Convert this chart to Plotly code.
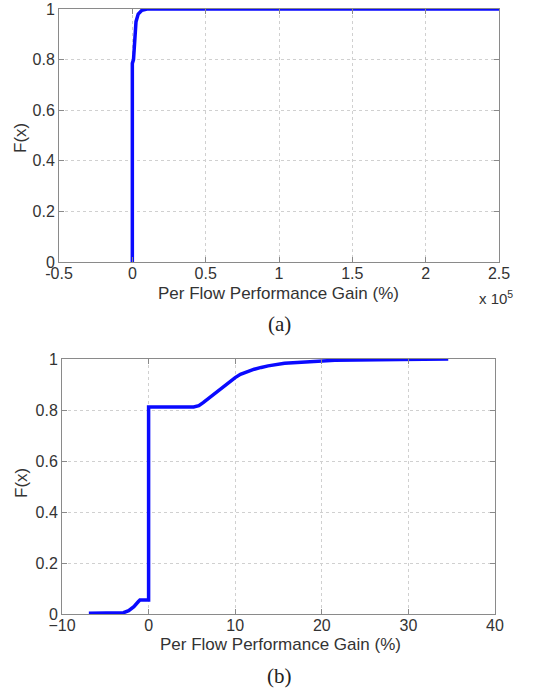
import plotly.graph_objects as go

# Panel (a): CDF of per-flow performance gain (%), x in raw percent
a_gain = [0, 0, 800, 1500, 2500, 4000, 6500, 10000, 250000]
a_cdf = [0.0, 0.785, 0.80, 0.88, 0.95, 0.98, 0.995, 1.0, 1.0]

# Panel (b): CDF of per-flow performance gain (%)
b_gain = [-6.9, -2.9, -2.3, -1.7, -1.2, -1.0, 0.0, 0.0, 5.2, 5.8, 6.3, 7.1, 7.9, 8.6,
          9.4, 10.0, 10.6, 11.4, 12.2, 13.0, 13.8, 15.7, 18.4, 21.5, 29.0, 34.6]
b_cdf = [0.003, 0.005, 0.013, 0.029, 0.048, 0.055, 0.055, 0.812, 0.812, 0.817, 0.829,
         0.850, 0.872, 0.892, 0.911, 0.927, 0.940, 0.951, 0.960, 0.967, 0.973, 0.983,
         0.990, 0.995, 0.998, 1.0]

a_xticks = [-0.5, 0, 0.5, 1, 1.5, 2, 2.5]
a_xtick_text = ["-0.5", "0", "0.5", "1", "1.5", "2", "2.5"]
b_xticks = [-10, 0, 10, 20, 30, 40]
b_xtick_text = ["\u221210", "0", "10", "20", "30", "40"]
y_ticks = [0, 0.2, 0.4, 0.6, 0.8, 1]
y_tick_text = ["0", "0.2", "0.4", "0.6", "0.8", "1"]
scale_a = 1e5

W, H = 540, 695
BLUE = "#0a0aff"

def fx(px):
    return px / W

def fy(py):
    return 1 - py / H

fig = go.Figure()
fig.add_trace(go.Scatter(x=[v / scale_a for v in a_gain], y=a_cdf, mode="lines",
                         line=dict(color=BLUE, width=3.5), xaxis="x", yaxis="y",
                         showlegend=False))
fig.add_trace(go.Scatter(x=b_gain, y=b_cdf, mode="lines",
                         line=dict(color=BLUE, width=3.5),
                         xaxis="x2", yaxis="y2", showlegend=False))

tickfont = dict(family="Liberation Sans, Arial", size=16, color="#333333")
common = dict(showline=True, linecolor="#8a8a8a", linewidth=1, mirror="ticks",
              ticks="inside", ticklen=5, tickcolor="#8a8a8a",
              showgrid=True, gridcolor="#d0d0d0", griddash="dot", gridwidth=1,
              zeroline=False, tickfont=tickfont, automargin=False)
xcommon = dict(ticklabelstandoff=-3, **common)

ax_dom = [fx(59), fx(499)]
ay_dom = [fy(262), fy(9)]
bx_dom = [fx(62), fx(495)]
by_dom = [fy(614), fy(359)]

fig.update_layout(
    width=W, height=H,
    margin=dict(l=0, r=0, t=0, b=0, autoexpand=False),
    paper_bgcolor="white", plot_bgcolor="white",
    xaxis=dict(domain=ax_dom, anchor="y", range=[-0.5, 2.5],
               tickvals=a_xticks, ticktext=a_xtick_text, **xcommon),
    yaxis=dict(domain=ay_dom, anchor="x", range=[0, 1],
               tickvals=y_ticks, ticktext=y_tick_text, **common),
    xaxis2=dict(domain=bx_dom, anchor="y2", range=[-10, 40],
                tickvals=b_xticks, ticktext=b_xtick_text, **xcommon),
    yaxis2=dict(domain=by_dom, anchor="x2", range=[0, 1],
                tickvals=y_ticks, ticktext=y_tick_text, **common),
)

labfont = dict(family="Liberation Sans, Arial", size=17, color="#333333")
capfont = dict(family="Liberation Serif, Times New Roman", size=21, color="#222222")

def px_ann(x, y, text, font, angle=0, xanchor="center", yanchor="middle"):
    fig.add_annotation(x=fx(x), y=fy(y), xref="paper", yref="paper", text=text,
                       showarrow=False, font=font, textangle=angle,
                       xanchor=xanchor, yanchor=yanchor)

px_ann(278, 293, "Per Flow Performance Gain (%)", labfont)
px_ann(280, 644, "Per Flow Performance Gain (%)", labfont)
px_ann(20, 138, "F(x)", labfont, angle=-90)
px_ann(21, 483, "F(x)", labfont, angle=-90)
px_ann(477, 297, "x 10<sup>5</sup>", dict(family="Liberation Sans, Arial", size=15, color="#333333"), xanchor="left")
px_ann(279, 324, "(a)", capfont)
px_ann(279, 676, "(b)", capfont)

# remove the browser's default 8px body margin so figure pixels equal page pixels
fig.write_html("out.html", config={"displayModeBar": False},
               post_script="document.body.style.margin='0';document.body.style.overflow='hidden';")
